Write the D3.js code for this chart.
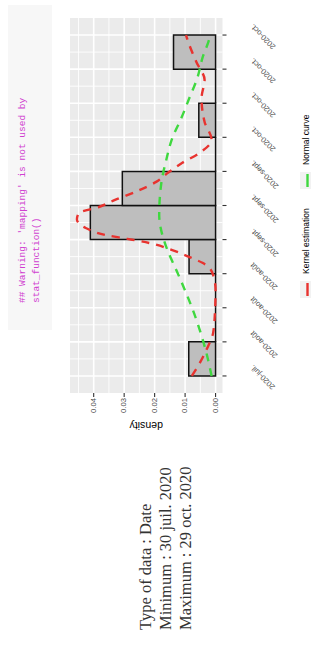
<!DOCTYPE html>
<html>
<head>
<meta charset="utf-8">
<script src="https://cdn.jsdelivr.net/npm/d3@7"></script>
<style>
body { margin: 0; background: #fff; }
</style>
</head>
<body>
<div id="page"></div>
<script>
// histogram breaks (bin edges) and densities, earliest first
var binEdges = ["2020-07-30T00:00", "2020-08-08T02:24", "2020-08-17T04:48", "2020-08-26T07:12",
                "2020-09-04T09:36", "2020-09-13T12:00", "2020-09-22T14:24", "2020-10-01T16:48",
                "2020-10-10T19:12", "2020-10-19T21:36", "2020-10-29T00:00"]
var binDensity = [0.0088, 0, 0, 0.0087, 0.0411, 0.0306, 0, 0.0055, 0, 0.0138]
var tickLabels = ["2020-juil.", "2020-août", "2020-août", "2020-août", "2020-sept.", "2020-sept.",
                  "2020-sept.", "2020-oct.", "2020-oct.", "2020-oct.", "2020-oct."]
var densTicks = [0, 0.01, 0.02, 0.03, 0.04]
var densLabels = ["0.00", "0.01", "0.02", "0.03", "0.04"]

// kernel estimate, days after first date
var kdeDay  = [0, 3, 7, 11.5, 17, 23, 27.8, 30.2, 31.5, 33.6, 35.5, 36.6, 37.6, 39.5, 41.8, 43.5,
               45.1, 47, 49.6, 51.8, 54, 56.9, 59.5, 63, 67.8, 74.2, 79, 83.8, 89.7, 91]
var kdeDens = [0.0078, 0.0055, 0.003, 0.0008, 0.0002, 0, 0.0012, 0.0043, 0.0079, 0.0142, 0.0218, 0.029,
               0.036, 0.0426, 0.0455, 0.0449, 0.0383, 0.033, 0.025, 0.0195, 0.016, 0.0109, 0.0053,
               0.0013, 0.0036, 0.0046, 0.0036, 0.0063, 0.0092, 0.0097]
// normal curve
var normDay  = [0, 6.1, 15, 28.3, 33.6, 43, 51.5, 57.6, 63.5, 68.9, 74.2, 79.5, 84.9, 90.2, 91]
var normDens = [0.0013, 0.003, 0.0063, 0.0129, 0.0158, 0.0185, 0.0178, 0.0162, 0.0142, 0.0112,
                0.0086, 0.006, 0.0043, 0.002, 0.0018]

var legendNames  = ["Kernel estimation", "Normal curve"]
var legendColors = ["#e8332f", "#3fd83f"]
var warningLines = ["## Warning: 'mapping' is not used by", "stat_function()"]
var infoLines    = ["Type of data : Date", "Minimum : 30 juil. 2020", "Maximum : 29 oct. 2020"]

var W = 311, H = 646
var panel = {left: 70, right: 222.5, top: 18, bottom: 393}

var parseDate = d3.utcParse("%Y-%m-%dT%H:%M")
var edges = binEdges.map(parseDate)
var d0 = edges[0], d1 = edges[edges.length - 1]
var span = d1 - d0
var dayDate = function(d) { return new Date(+d0 + d * 864e5) }

var svg = d3.select('#page').append('svg')
    .attr('width', W)
    .attr('height', H)
    .style('font-family', '"Liberation Sans", Arial, sans-serif')

// page is turned a quarter: dates run bottom -> top, density right -> left
var y = d3.scaleUtc()
    .domain([new Date(+d0 - 0.05 * span), new Date(+d1 + 0.05 * span)])
    .range([panel.bottom, panel.top])
var m = 0.0455
var x = d3.scaleLinear()
    .domain([-0.05 * m, 1.05 * m])
    .range([panel.right, panel.left])

// r output block
svg.append('rect')
    .attr('x', 8).attr('y', 5).attr('width', 44).attr('height', 325)
    .attr('fill', '#f7f7f7')
svg.selectAll('text.warn').data(warningLines).enter().append('text')
    .attr('class', 'warn')
    .attr('transform', function(d, i) { return 'translate(' + (22 + i * 14) + ',303) rotate(-90)' })
    .attr('dominant-baseline', 'middle')
    .style('font-family', '"Liberation Mono", "DejaVu Sans Mono", monospace')
    .style('font-size', '9.5px')
    .attr('fill', '#d040d0')
    .text(function(d) { return d })

// panel
svg.append('rect')
    .attr('x', panel.left).attr('y', panel.top)
    .attr('width', panel.right - panel.left).attr('height', panel.bottom - panel.top)
    .attr('fill', '#ebebeb')

var minorDens = x.ticks(10).filter(function(v) { return densTicks.indexOf(+v.toFixed(3)) < 0 })
var minorDates = d3.pairs(edges).map(function(p) { return new Date((+p[0] + +p[1]) / 2) })

var grid = svg.append('g')
grid.selectAll('line.vmin').data(minorDens).enter().append('line')
    .attr('x1', x).attr('x2', x).attr('y1', panel.top).attr('y2', panel.bottom)
    .attr('stroke', '#fff').attr('stroke-width', 0.9)
grid.selectAll('line.hmin').data(minorDates).enter().append('line')
    .attr('y1', y).attr('y2', y).attr('x1', panel.left).attr('x2', panel.right)
    .attr('stroke', '#fff').attr('stroke-width', 0.9)
grid.selectAll('line.vmaj').data(densTicks).enter().append('line')
    .attr('x1', x).attr('x2', x).attr('y1', panel.top).attr('y2', panel.bottom)
    .attr('stroke', '#fff').attr('stroke-width', 1.6)
grid.selectAll('line.hmaj').data(edges).enter().append('line')
    .attr('y1', y).attr('y2', y).attr('x1', panel.left).attr('x2', panel.right)
    .attr('stroke', '#fff').attr('stroke-width', 1.6)

// bars (paths so the empty bins still draw their outline)
var bins = binDensity.map(function(v, i) { return {v: v, a: edges[i], b: edges[i + 1]} })
svg.append('g').selectAll('path').data(bins).enter().append('path')
    .attr('d', function(d) {
        return 'M' + x(0) + ',' + y(d.a) + 'H' + x(d.v) + 'V' + y(d.b) + 'H' + x(0) + 'Z'
    })
    .attr('fill', '#bebebe')
    .attr('stroke', '#111')
    .attr('stroke-width', 1.5)

var line = d3.line()
    .x(function(d) { return x(d[1]) })
    .y(function(d) { return y(dayDate(d[0])) })
    .curve(d3.curveMonotoneY)

svg.append('path')
    .datum(d3.zip(kdeDay, kdeDens))
    .attr('d', line)
    .attr('fill', 'none')
    .attr('stroke', legendColors[0])
    .attr('stroke-width', 2.4)
    .attr('stroke-dasharray', '8,7')

svg.append('path')
    .datum(d3.zip(normDay, normDens))
    .attr('d', line)
    .attr('fill', 'none')
    .attr('stroke', legendColors[1])
    .attr('stroke-width', 2.4)
    .attr('stroke-dasharray', '8,7')

// date axis (right side)
var dAxis = svg.append('g')
dAxis.selectAll('line').data(edges).enter().append('line')
    .attr('y1', y).attr('y2', y)
    .attr('x1', panel.right).attr('x2', panel.right + 4)
    .attr('stroke', '#333').attr('stroke-width', 1.1)
dAxis.selectAll('text').data(edges).enter().append('text')
    .attr('transform', function(d) { return 'translate(252,' + (y(d) - 10) + ') rotate(225)' })
    .attr('text-anchor', 'end')
    .attr('dominant-baseline', 'middle')
    .style('font-size', '7.7px')
    .attr('fill', '#4d4d4d')
    .text(function(d, i) { return tickLabels[i] })

// density axis (bottom)
var yAxis = svg.append('g')
yAxis.selectAll('line').data(densTicks).enter().append('line')
    .attr('x1', x).attr('x2', x)
    .attr('y1', panel.bottom).attr('y2', panel.bottom + 4)
    .attr('stroke', '#333').attr('stroke-width', 1.1)
yAxis.selectAll('text').data(densTicks).enter().append('text')
    .attr('transform', function(d) { return 'translate(' + x(d) + ',' + (panel.bottom + 5) + ') rotate(-90)' })
    .attr('text-anchor', 'end')
    .attr('dominant-baseline', 'middle')
    .style('font-size', '7.7px')
    .attr('fill', '#4d4d4d')
    .text(function(d, i) { return densLabels[i] })
svg.append('text')
    .attr('transform', 'translate(' + ((panel.left + panel.right) / 2) + ',425) rotate(180)')
    .attr('text-anchor', 'middle')
    .attr('dominant-baseline', 'middle')
    .style('font-size', '10.5px')
    .attr('fill', '#000')
    .text('density')

// legend
var keyTop = [281, 172]
var leg = svg.append('g')
legendNames.forEach(function(name, i) {
    leg.append('rect')
        .attr('x', 300).attr('y', keyTop[i]).attr('width', 16).attr('height', 17)
        .attr('fill', '#f2f2f2')
    leg.append('line')
        .attr('x1', 307.5).attr('x2', 307.5)
        .attr('y1', keyTop[i] + 2).attr('y2', keyTop[i] + 15)
        .attr('stroke', legendColors[i]).attr('stroke-width', 2.4)
    leg.append('text')
        .attr('transform', 'translate(307,' + (keyTop[i] - 7) + ') rotate(-90)')
        .attr('dominant-baseline', 'middle')
        .style('font-size', '8.5px')
        .attr('fill', '#000')
        .text(name)
})

// summary text under the chart
svg.selectAll('text.info').data(infoLines).enter().append('text')
    .attr('class', 'info')
    .attr('transform', function(d, i) { return 'translate(' + (147 + i * 20) + ',630) rotate(-90)' })
    .attr('dominant-baseline', 'middle')
    .style('font-family', '"Liberation Serif", "Times New Roman", serif')
    .style('font-size', '16.5px')
    .attr('fill', '#333')
    .text(function(d) { return d })
</script>
</body>
</html>
